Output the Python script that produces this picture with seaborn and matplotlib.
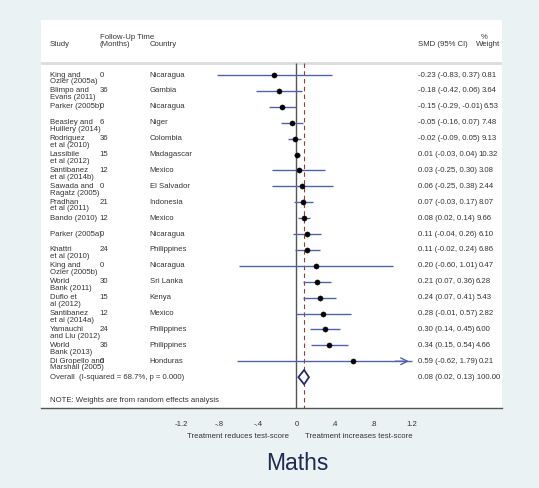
import numpy as np
import pandas as pd
import matplotlib
matplotlib.use("Agg")
import matplotlib.pyplot as plt
import seaborn as sns

# forest plot data - maths
studies = ["King and\nOzler (2005a)", "Blimpo and\nEvans (2011)", "Parker (2005b)",
           "Beasley and\nHuillery (2014)", "Rodriguez\net al (2010)", "Lassibile\net al (2012)",
           "Santibanez\net al (2014b)", "Sawada and\nRagatz (2005)", "Pradhan\net al (2011)",
           "Bando (2010)", "Parker (2005a)", "Khattri\net al (2010)", "King and\nOzler (2005b)",
           "World\nBank (2011)", "Duflo et\nal (2012)", "Santibanez\net al (2014a)",
           "Yamauchi\nand Liu (2012)", "World\nBank (2013)", "Di Gropello and\nMarshall (2005)"]
followup = [0, 36, 0, 6, 36, 15, 12, 0, 21, 12, 0, 24, 0, 30, 15, 12, 24, 36, 0]
country = ["Nicaragua", "Gambia", "Nicaragua", "Niger", "Colombia", "Madagascar", "Mexico",
           "El Salvador", "Indonesia", "Mexico", "Nicaragua", "Philippines", "Nicaragua",
           "Sri Lanka", "Kenya", "Mexico", "Philippines", "Philippines", "Honduras"]
smd = [-0.23, -0.18, -0.15, -0.05, -0.02, 0.01, 0.03, 0.06, 0.07, 0.08, 0.11, 0.11, 0.20,
       0.21, 0.24, 0.28, 0.30, 0.34, 0.59]
lo = [-0.83, -0.42, -0.29, -0.16, -0.09, -0.03, -0.25, -0.25, -0.03, 0.02, -0.04, -0.02,
      -0.60, 0.07, 0.07, -0.01, 0.14, 0.15, -0.62]
hi = [0.37, 0.06, -0.01, 0.07, 0.05, 0.04, 0.30, 0.38, 0.17, 0.14, 0.26, 0.24, 1.01,
      0.36, 0.41, 0.57, 0.45, 0.54, 1.79]
weight = [0.81, 3.64, 6.53, 7.48, 9.13, 10.32, 3.08, 2.44, 8.07, 9.66, 6.10, 6.86, 0.47,
          6.28, 5.43, 2.82, 6.00, 4.66, 0.21]
overall = 0.08
overall_lo = 0.02
overall_hi = 0.13
overall_label = "Overall  (I-squared = 68.7%, p = 0.000)"
ticks = [-1.2, -0.8, -0.4, 0, 0.4, 0.8, 1.2]
tick_labels = ["-1.2", "-.8", "-.4", "0", ".4", ".8", "1.2"]

df = pd.DataFrame({"study": studies, "followup": followup, "country": country,
                   "smd": smd, "lo": lo, "hi": hi, "weight": weight})
df["row"] = np.arange(1, len(df) + 1)
overall_row = len(df) + 1

sns.set_style("white")
plt.rcParams["font.family"] = ["Liberation Sans", "DejaVu Sans"]

bg = "#eaf2f3"
ci_col = "#5262a8"
fig = plt.figure(figsize=(5.39, 4.88), dpi=100, facecolor=bg)
ax = fig.add_axes([41 / 539, 1 - 408 / 488, (502 - 41) / 539, (408 - 20) / 488])
ax.set_facecolor("white")

xmin, xmax = -2.66, 2.14
clip = 1.2
ax.set_xlim(xmin, xmax)
ax.set_ylim(21.94, -2.46)

# reference lines
ax.vlines(0, 0.25, 21.94, color="#555555", lw=1.0, zorder=2)
ax.vlines(overall, 0.25, 21.94, color="#9a3a3a", lw=0.8, ls=(0, (4, 3)), zorder=2)
ax.axhline(0.25, color="#dcdcdc", lw=2, zorder=1)

# confidence intervals
for _, r in df.iterrows():
    right = min(r["hi"], clip)
    ax.hlines(r["row"], r["lo"], right, color=ci_col, lw=1.0, zorder=3)
    if r["hi"] > clip:
        ax.annotate("", xy=(clip, r["row"]), xytext=(clip - 0.2, r["row"]),
                    arrowprops=dict(arrowstyle="->", color=ci_col, lw=1.0,
                                    mutation_scale=12))

sns.scatterplot(data=df, x="smd", y="row", color="black", s=14, edgecolor="black",
                ax=ax, zorder=4, legend=False)

# overall diamond
ax.fill([overall_lo, overall, overall_hi, overall, overall_lo],
        [overall_row, overall_row - 0.45, overall_row, overall_row + 0.45, overall_row],
        facecolor="white", edgecolor="#2a2a6a", lw=1.3, zorder=5)

fs = 5.6
tc = "#333333"
x_study, x_fu, x_ctry, x_ci, x_w = -2.57, -2.05, -1.53, 1.27, 1.865
x_wcol = (474 - 296) / 96

# header
ax.text(x_study, -0.95, "Study", fontsize=fs, color=tc, va="center")
ax.text(x_fu, -1.38, "Follow-Up Time", fontsize=fs, color=tc, va="center")
ax.text(x_fu, -0.95, "(Months)", fontsize=fs, color=tc, va="center")
ax.text(x_ctry, -0.95, "Country", fontsize=fs, color=tc, va="center")
ax.text(x_ci, -0.95, "SMD (95% CI)", fontsize=fs, color=tc, va="center")
ax.text(x_w + 0.05, -1.38, "%", fontsize=fs, color=tc, va="center")
ax.text(x_w, -0.95, "Weight", fontsize=fs, color=tc, va="center")

fig.canvas.draw()
renderer = fig.canvas.get_renderer()
inv = ax.transData.inverted()

for _, r in df.iterrows():
    y = r["row"]
    lines = r["study"].split("\n")
    for k, line in enumerate(lines):
        ax.text(x_study, y + 0.42 * k, line, fontsize=fs, color=tc, va="center")
    ax.text(x_fu, y, str(r["followup"]), fontsize=fs, color=tc, va="center")
    ax.text(x_ctry, y, r["country"], fontsize=fs, color=tc, va="center")
    t = ax.text(x_ci, y, f"{r['smd']:.2f} ({r['lo']:.2f}, {r['hi']:.2f})", fontsize=fs,
                color=tc, va="center")
    # weight column: fixed position unless the CI text runs into it
    end_px = t.get_window_extent(renderer).x1
    end_x = inv.transform((end_px, 0))[0]
    ax.text(max(x_wcol, end_x + 0.01), y, f"{r['weight']:.2f}", fontsize=fs, color=tc,
            va="center")

ax.text(x_study, overall_row, overall_label, fontsize=fs, color=tc, va="center")
ax.text(x_ci, overall_row, f"{overall:.2f} ({overall_lo:.2f}, {overall_hi:.2f}) 100.00",
        fontsize=fs, color=tc, va="center")
ax.text(x_study, 21.44, "NOTE: Weights are from random effects analysis", fontsize=fs,
        color=tc, va="center")

# axis
for s in ["top", "right", "left"]:
    ax.spines[s].set_visible(False)
ax.spines["bottom"].set_color("#555555")
ax.spines["bottom"].set_linewidth(1.0)
ax.set_yticks([])
ax.set_xticks(ticks)
ax.set_xticklabels(tick_labels, fontsize=fs, color=tc)
ax.tick_params(axis="x", direction="out", length=5, width=1.0, color="#555555", pad=4)
ax.set_xlabel("")
ax.set_ylabel("")

fig.text(289 / 539, 1 - 436 / 488, "Treatment reduces test-score", fontsize=fs,
         color=tc, ha="right", va="center")
fig.text(305 / 539, 1 - 436 / 488, "Treatment increases test-score", fontsize=fs,
         color=tc, ha="left", va="center")
fig.text(297 / 539, 1 - 463 / 488, "Maths", fontsize=16.5, color="#1e2a52",
         ha="center", va="center")

fig.savefig("out.png", dpi=100, facecolor=bg)
